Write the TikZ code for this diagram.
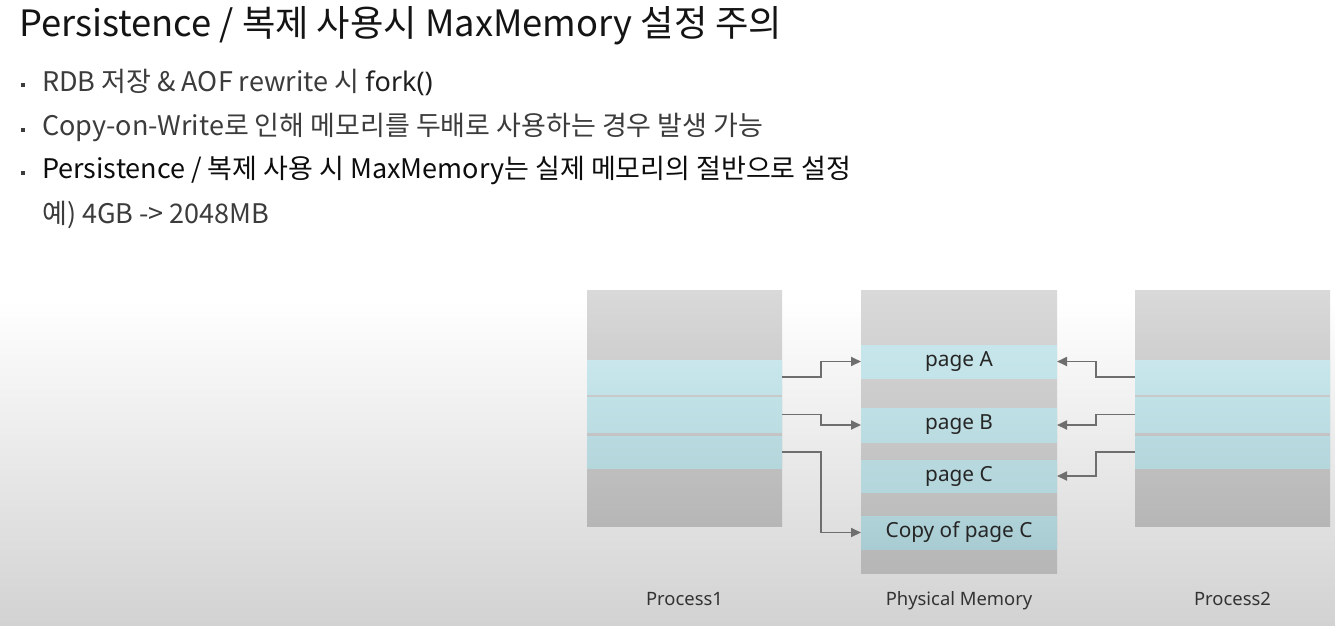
\documentclass[tikz,border=0pt]{standalone}
\usepackage{fontspec}
\setmainfont{Noto Sans CJK KR}
\newfontfamily\labelfont{Noto Sans}
\usetikzlibrary{arrows.meta}
\definecolor{bgbot}{HTML}{D2D2D2}
\definecolor{grayA}{HTML}{D9D9D9}
\definecolor{grayB}{HTML}{B6B6B6}
\definecolor{cyanA}{HTML}{C6E6EB}
\definecolor{cyanB}{HTML}{A8CCD2}
\definecolor{arrowc}{HTML}{6E6E6E}
\definecolor{txtgray}{HTML}{3C3C3C}
\tikzset{
  stripe/.style={draw=none,minimum width=#1,inner sep=0pt,outer sep=0pt},
  conn/.style={draw=arrowc,line width=1.8pt,-{Triangle[length=10pt,width=9pt]}},
  pagetxt/.style={font=\labelfont\fontsize{20.8}{24}\selectfont,text=black!85},
  captxt/.style={anchor=base,font=\labelfont\fontsize{18.4}{22}\selectfont,text=black!80},
  bullettxt/.style={anchor=west,inner sep=0pt,font=\fontsize{27}{31}\selectfont,text=txtgray},
  dot/.style={rectangle,fill=txtgray,inner sep=0pt,minimum size=4pt}
}
\begin{document}
\begin{tikzpicture}[x=1pt,y=-1pt]
\useasboundingbox (0,0) rectangle (1335,625);
% background
\fill[white] (0,0) rectangle (1335,300);
\shade[top color=white,bottom color=bgbot] (0,299.5) rectangle (1335,625);
% title and bullets
\node[anchor=west,inner sep=0pt,font=\fontsize{36.3}{40}\selectfont,text=black!92] (title) at (19,26) {Persistence / 복제 사용시 MaxMemory 설정 주의};
\node[dot] (d1) at (23,85) {};
\node[bullettxt] (b1) at (42,82.5) {RDB 저장 \& AOF rewrite 시 {\labelfont\fontsize{27}{31}\selectfont\color{black!88}fork()}};
\node[dot] (d2) at (23,130) {};
\node[bullettxt] (b2) at (42,127.5) {Copy-on-Write로 인해 메모리를 두배로 사용하는 경우 발생 가능};
\node[dot] (d3) at (23,173) {};
\node[bullettxt,text=black!95] (b3) at (42,170.5) {Persistence / 복제 사용 시 MaxMemory는 실제 메모리의 절반으로 설정};
\node[bullettxt] (b4) at (42,214.5) {예) 4GB -> 2048MB};
% Process1
\shade[top color=grayA,bottom color=grayB] (587,290) rectangle (782,526);
\node[stripe=195pt,minimum height=34pt,top color=cyanA!95!white,bottom color=cyanA!85!cyanB] (p1a) at (684.5,377) {};
\node[stripe=195pt,minimum height=35pt,top color=cyanA!80!cyanB,bottom color=cyanA!65!cyanB] (p1b) at (684.5,414.5) {};
\node[stripe=195pt,minimum height=32pt,top color=cyanA!55!cyanB,bottom color=cyanA!40!cyanB] (p1c) at (684.5,452) {};
% Physical memory
\shade[top color=grayA,bottom color=grayB] (861,290) rectangle (1057,573);
\node[stripe=196pt,minimum height=33pt,top color=cyanA,bottom color=cyanA!90!cyanB,pagetxt] (pA) at (959,361.5) {page A};
\node[stripe=196pt,minimum height=34pt,top color=cyanA!75!cyanB,bottom color=cyanA!60!cyanB,pagetxt] (pB) at (959,425) {page B};
\node[stripe=196pt,minimum height=32pt,top color=cyanA!50!cyanB,bottom color=cyanA!38!cyanB,pagetxt] (pC) at (959,476) {page C};
\node[stripe=196pt,minimum height=33pt,top color=cyanA!25!cyanB,bottom color=cyanB,pagetxt] (pCc) at (959,532.5) {Copy of page C};
% Process2
\shade[top color=grayA,bottom color=grayB] (1135,290) rectangle (1330,526);
\node[stripe=195pt,minimum height=34pt,top color=cyanA!95!white,bottom color=cyanA!85!cyanB] (p2a) at (1232.5,377) {};
\node[stripe=195pt,minimum height=35pt,top color=cyanA!80!cyanB,bottom color=cyanA!65!cyanB] (p2b) at (1232.5,414.5) {};
\node[stripe=195pt,minimum height=32pt,top color=cyanA!55!cyanB,bottom color=cyanA!40!cyanB] (p2c) at (1232.5,452) {};
% captions
\node[captxt] (c1) at (684.5,605) {Process1};
\node[captxt] (c2) at (959,605) {Physical Memory};
\node[captxt] (c3) at (1232.5,605) {Process2};
% connectors
\draw[conn] (p1a.east) -- ++(39,0) |- (pA.west);
\draw[conn] (p1b.east) -- ++(39,0) |- (pB.west);
\draw[conn] (p1c.east) -- ++(39,0) |- (pCc.west);
\draw[conn] (p2a.west) -- ++(-39,0) |- (pA.east);
\draw[conn] (p2b.west) -- ++(-39,0) |- (pB.east);
\draw[conn] (p2c.west) -- ++(-39,0) |- (pC.east);
\end{tikzpicture}
\end{document}
